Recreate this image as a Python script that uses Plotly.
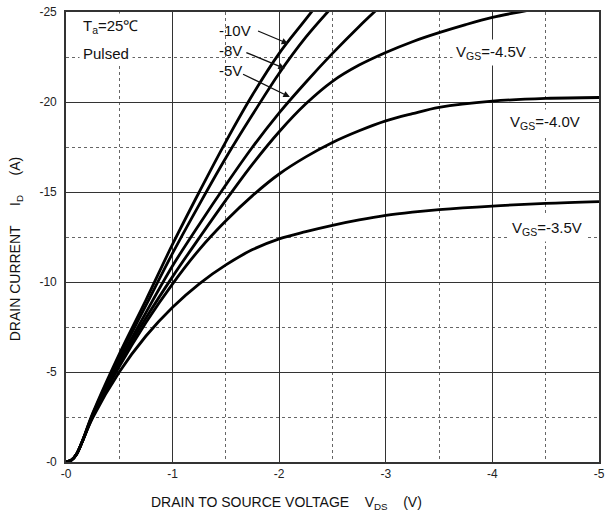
import plotly.graph_objects as go

# ---- data (V_DS in volts, I_D in amps) ----
v_common = [0, -0.05, -0.1, -0.15]
i_common = [0, -0.1, -0.45, -1.1]

vgs_labels = ["-10V", "-8V", "-5V", "-4.5V", "-4.0V", "-3.5V"]

v_10 = v_common + [-0.25, -0.5, -0.75, -1.0, -1.25, -1.5, -1.75, -2.0, -2.25, -2.5]
i_10 = i_common + [-2.7, -6.0, -9.0, -12.1, -15.0, -17.8, -20.4, -22.7, -24.6, -26.5]

v_8 = v_common + [-0.25, -0.5, -0.75, -1.0, -1.25, -1.5, -1.75, -2.0, -2.25, -2.5, -2.75]
i_8 = i_common + [-2.65, -5.8, -8.7, -11.6, -14.3, -16.9, -19.3, -21.6, -23.6, -25.3, -26.9]

v_5 = v_common + [-0.25, -0.5, -0.75, -1.0, -1.25, -1.5, -1.75, -2.0, -2.25, -2.5, -2.75, -3.0]
i_5 = i_common + [-2.6, -5.6, -8.3, -10.9, -13.2, -15.4, -17.5, -19.4, -21.1, -22.7, -24.2, -25.6]

v_45 = v_common + [-0.25, -0.5, -0.75, -1.0, -1.25, -1.5, -1.75, -2.0, -2.25, -2.5, -2.75,
                   -3.0, -3.25, -3.5, -3.75, -4.0, -4.25, -4.5, -5.0]
i_45 = i_common + [-2.55, -5.5, -8.0, -10.3, -12.45, -14.55, -16.55, -18.35, -19.9, -21.15, -22.05,
                   -22.75, -23.35, -23.85, -24.3, -24.7, -25.0, -25.25, -25.6]

v_40 = v_common + [-0.25, -0.5, -0.75, -1.0, -1.25, -1.5, -1.75, -2.0, -2.25, -2.5, -2.75,
                   -3.0, -3.25, -3.5, -4.0, -4.5, -5.0]
i_40 = i_common + [-2.5, -5.3, -7.75, -9.9, -11.8, -13.4, -14.8, -16.0, -16.95, -17.75, -18.4,
                   -18.95, -19.35, -19.7, -20.05, -20.2, -20.25]

v_35 = v_common + [-0.25, -0.5, -0.75, -1.0, -1.25, -1.5, -1.75, -2.0, -2.25, -2.5, -2.75,
                   -3.0, -3.25, -3.5, -4.0, -4.5, -5.0]
i_35 = i_common + [-2.45, -5.0, -7.0, -8.6, -9.9, -10.95, -11.8, -12.4, -12.8, -13.15, -13.45,
                   -13.7, -13.88, -14.02, -14.22, -14.37, -14.47]

series_v = [v_10, v_8, v_5, v_45, v_40, v_35]
series_i = [i_10, i_8, i_5, i_45, i_40, i_35]

x_ticks = [0, -1, -2, -3, -4, -5]
x_ticktext = ["-0", "-1", "-2", "-3", "-4", "-5"]
x_minor = [-0.5, -1.5, -2.5, -3.5, -4.5]
y_ticks = [0, -5, -10, -15, -20, -25]
y_ticktext = ["-0", "-5", "-10", "-15", "-20", "-25"]
y_minor = [-2.5, -7.5, -12.5, -17.5, -22.5]

FONT = "Liberation Sans, Arial, sans-serif"

fig = go.Figure()
for v, i, name in zip(series_v, series_i, vgs_labels):
    fig.add_trace(go.Scatter(x=v, y=i, mode="lines", name=name,
                             line=dict(color="black", width=2.8, shape="spline", smoothing=1.0),
                             hoverinfo="skip"))

axis_common = dict(showline=True, linecolor="#333", linewidth=1.6, mirror=True,
                   showgrid=True, gridcolor="#333", gridwidth=1.4, zeroline=False,
                   automargin=False,
                   ticks="", tickfont=dict(family=FONT, size=12, color="#222"))

fig.update_xaxes(range=[0, -5], tickmode="array", tickvals=x_ticks, ticktext=x_ticktext,
                 minor=dict(tickmode="array", tickvals=x_minor, showgrid=True,
                            gridcolor="#666", griddash="dot", gridwidth=1.3),
                 **axis_common)
fig.update_yaxes(range=[0, -25], tickmode="array", tickvals=y_ticks, ticktext=y_ticktext,
                 ticklabelstandoff=5,
                 minor=dict(tickmode="array", tickvals=y_minor, showgrid=True,
                            gridcolor="#666", griddash="dot", gridwidth=1.3),
                 **axis_common)

ann_font = dict(family=FONT, size=15, color="#111")
nb = "\u00a0" * 5
annotations = [
    dict(x=-0.12, y=-24.2, text="T<sub>a</sub>=25\u2103", xanchor="left", yanchor="middle",
         showarrow=False, font=ann_font, bgcolor="white", borderpad=3),
    dict(x=-0.12, y=-22.7, text="Pulsed", xanchor="left", yanchor="middle",
         showarrow=False, font=ann_font, bgcolor="white", borderpad=3),
    dict(x=-1.416, y=-24.0, text="-10V", xanchor="left", yanchor="middle",
         showarrow=False, font=ann_font),
    dict(x=-1.416, y=-22.87, text="-8V", xanchor="left", yanchor="middle",
         showarrow=False, font=ann_font),
    dict(x=-1.416, y=-21.76, text="-5V", xanchor="left", yanchor="middle",
         showarrow=False, font=ann_font),
    dict(x=-2.084, y=-23.24, ax=-31.6, ay=-13.3, text="", showarrow=True,
         arrowhead=2, arrowsize=1, arrowwidth=1.3, arrowcolor="#111"),
    dict(x=-2.053, y=-21.86, ax=-40, ay=-16.6, text="", showarrow=True,
         arrowhead=2, arrowsize=1, arrowwidth=1.3, arrowcolor="#111"),
    dict(x=-2.10, y=-20.28, ax=-48.3, ay=-23.4, text="", showarrow=True,
         arrowhead=2, arrowsize=1, arrowwidth=1.3, arrowcolor="#111"),
    dict(x=-3.984, y=-22.76, text="V<sub>GS</sub>=-4.5V", showarrow=False,
         font=ann_font, bgcolor="white", borderpad=3),
    dict(x=-4.49, y=-18.87, text="V<sub>GS</sub>=-4.0V", showarrow=False,
         font=ann_font, bgcolor="white", borderpad=3),
    dict(x=-4.51, y=-12.98, text="V<sub>GS</sub>=-3.5V", showarrow=False,
         font=ann_font, bgcolor="white", borderpad=3),
    dict(xref="paper", yref="paper", x=0.4146, y=-0.0918,
         text="DRAIN TO SOURCE VOLTAGE" + "\u00a0" * 4 + "V<sub>DS</sub>" + "\u00a0" * 4 + "(V)",
         showarrow=False, xanchor="center", yanchor="middle",
         font=dict(family=FONT, size=14, color="#111")),
    dict(xref="paper", yref="paper", x=-0.0938, y=0.4727, textangle=-90,
         text="DRAIN CURRENT" + nb + "I<sub>D</sub>" + nb + "(A)",
         showarrow=False, xanchor="center", yanchor="middle",
         font=dict(family=FONT, size=14, color="#111")),
]

fig.update_layout(width=606, height=519, showlegend=False,
                  plot_bgcolor="white", paper_bgcolor="white",
                  margin=dict(l=66, r=7, t=12, b=57),
                  annotations=annotations)

fig.write_html("out.html")
